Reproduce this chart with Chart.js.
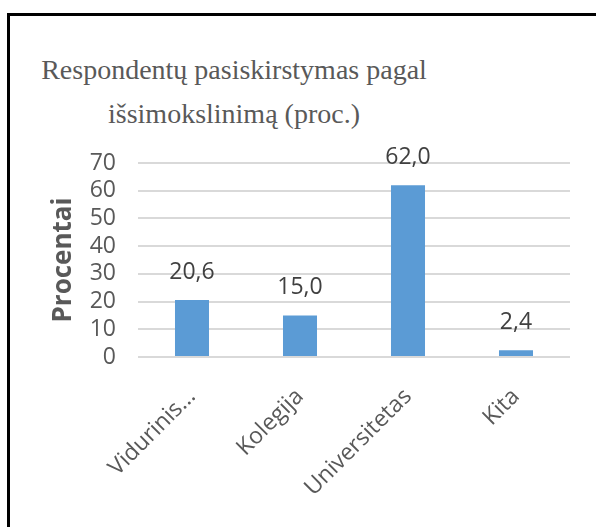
<!DOCTYPE html>
<html>
<head>
<meta charset="utf-8">
<script src="https://cdn.jsdelivr.net/npm/chart.js@4"></script>
<style>
  html, body { margin: 0; padding: 0; background: #fff; }
  #wrap { position: relative; width: 596px; height: 527px; overflow: hidden; }
  #frame { position: absolute; left: 7px; top: 13px; width: 700px; height: 600px;
           border-left: 3px solid #000; border-top: 3px solid #000; }
  #title { position: absolute; left: 0; top: 48px; width: 468px; text-align: center;
           font: 28px/44px "Liberation Serif", serif; color: #595959; }
  canvas { position: absolute; left: 0; top: 0; }
</style>
</head>
<body>
<div id="wrap">
  <div id="frame"></div>
  <div id="title">Respondentų pasiskirstymas pagal<br>išsimokslinimą (proc.)</div>
  <canvas id="grafico" width="596" height="527"></canvas>
</div>
<script>
const categories = ["Vidurinis...", "Kolegija", "Universitetas", "Kita"];
const percentValues = [20.6, 15.0, 62.0, 2.4];
const yMax = 70;
const yStep = 10;

// 20.6 -> "20,6"
function fmt(v) {
  return v.toFixed(1).replace(".", ",");
}

// value labels above the bars
const valueLabels = {
  id: "valueLabels",
  afterDatasetsDraw(chart) {
    const ctx = chart.ctx;
    ctx.save();
    ctx.font = "23px 'Open Sans'";
    ctx.fillStyle = "#404040";
    ctx.textAlign = "center";
    ctx.textBaseline = "alphabetic";
    chart.getDatasetMeta(0).data.forEach((bar, i) => {
      ctx.fillText(fmt(percentValues[i]), bar.x, bar.y - 21);
    });
    ctx.restore();
  }
};

const ctx = document.getElementById("grafico").getContext("2d");

const myChart = new Chart(ctx, {
  type: "bar",
  data: {
    labels: categories,
    datasets: [
      {
        label: "Procentai",
        data: percentValues,
        backgroundColor: "#5b9bd5",
        barPercentage: 0.315,
        categoryPercentage: 1,
      },
    ],
  },
  options: {
    responsive: false,
    animation: false,
    layout: {
      padding: { top: 163, right: 26, bottom: 0, left: 0 },
    },
    scales: {
      x: {
        grid: { display: false },
        border: { display: false },
        ticks: {
          color: "#595959",
          font: { family: "Open Sans", size: 23 },
          minRotation: 45,
          maxRotation: 45,
          autoSkip: false,
          padding: 18,
        },
        afterFit(scale) {
          scale.height = 170;
        },
      },
      y: {
        min: 0,
        max: yMax,
        border: { display: false },
        grid: {
          color: "#d9d9d9",
          lineWidth: 2,
          drawTicks: false,
        },
        ticks: {
          stepSize: yStep,
          autoSkip: false,
          color: "#595959",
          font: { family: "Open Sans", size: 23 },
          padding: 22,
        },
        title: {
          display: true,
          text: "Procentai",
          color: "#595959",
          font: { family: "Open Sans", size: 26, weight: "bold" },
          padding: { top: 48, bottom: 0 },
        },
        afterFit(scale) {
          scale.width = 138;
        },
      },
    },
    plugins: {
      legend: { display: false },
      tooltip: { enabled: false },
    },
  },
  plugins: [valueLabels],
});
</script>
</body>
</html>
